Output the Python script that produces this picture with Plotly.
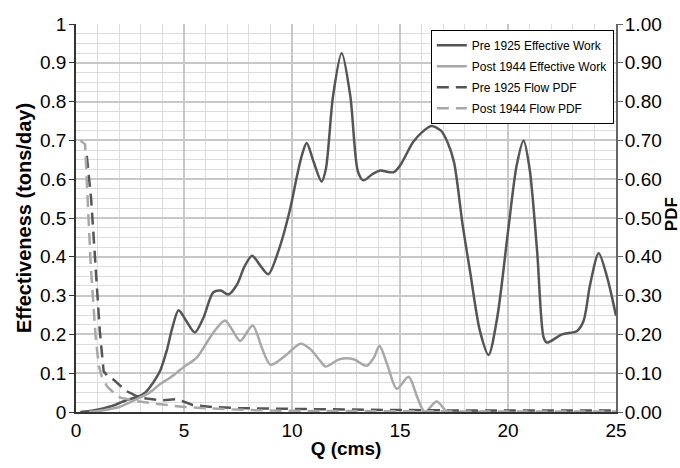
import plotly.graph_objects as go

# ---- data ----
pre_q = [0.2, 0.8, 1.3, 1.8, 2.35, 2.8, 3.2, 3.6, 3.9, 4.2, 4.45, 4.75, 5.1, 5.5, 5.9,
         6.35, 6.7, 7.05, 7.45, 7.8, 8.15, 8.5, 8.9, 9.4, 9.9, 10.2, 10.45, 10.68, 11.0,
         11.37, 11.57, 11.9, 12.3, 12.7, 13.05, 13.3, 13.7, 14.05, 14.7, 15.0, 15.6, 16.0,
         16.45, 16.9, 17.2, 17.5, 17.9, 18.25, 18.7, 19.1, 19.5, 20.0, 20.4, 20.72, 21.0,
         21.35, 21.65, 21.8, 22.5, 23.2, 23.5, 23.8, 24.2, 24.6, 25.0]
pre_work = [0.0, 0.004, 0.01, 0.018, 0.031, 0.038, 0.05, 0.078, 0.107, 0.158, 0.215, 0.262,
            0.235, 0.205, 0.243, 0.308, 0.313, 0.303, 0.328, 0.375, 0.403, 0.38, 0.355, 0.42,
            0.52, 0.6, 0.66, 0.693, 0.645, 0.594, 0.627, 0.814, 0.925, 0.814, 0.62, 0.597,
            0.612, 0.622, 0.618, 0.635, 0.695, 0.72, 0.737, 0.725, 0.695, 0.644, 0.482, 0.36,
            0.209, 0.147, 0.243, 0.465, 0.635, 0.70, 0.627, 0.413, 0.192, 0.179, 0.200, 0.209,
            0.235, 0.328, 0.409, 0.345, 0.248]

post_q = [0.6, 1.2, 2.0, 2.8, 3.4, 3.9, 4.4, 4.97, 5.6, 6.1, 6.5, 6.9, 7.25, 7.6, 8.18,
          8.6, 9.0, 9.6, 10.4, 10.85, 11.3, 11.55, 12.2, 12.85, 13.45, 13.8, 14.05, 14.4,
          14.85, 15.4, 15.8, 16.15, 16.7, 17.2, 18.0, 19.0, 19.5]
post_work = [0.0, 0.004, 0.013, 0.033, 0.05, 0.072, 0.09, 0.115, 0.141, 0.183, 0.215, 0.236,
             0.21, 0.183, 0.223, 0.166, 0.122, 0.141, 0.176, 0.162, 0.132, 0.117, 0.136,
             0.136, 0.119, 0.141, 0.171, 0.124, 0.06, 0.091, 0.038, 0.0, 0.027, 0.0, 0.0,
             0.0, 0.0]

pre_pdf_q = [0.5, 0.7, 0.9, 1.1, 1.28, 1.5, 1.75, 2.3, 2.95, 3.9, 4.7, 5.4, 6.3, 7.5,
             10, 12.5, 15, 17.5, 20, 22.5, 25]
pre_pdf = [0.66, 0.55, 0.38, 0.21, 0.105, 0.09, 0.083, 0.055, 0.037, 0.030, 0.033, 0.018,
           0.013, 0.01, 0.008, 0.006, 0.005, 0.004, 0.004, 0.004, 0.004]

post_pdf_q = [0.2, 0.42, 0.68, 0.9, 1.05, 1.2, 1.45, 1.8, 2.05, 2.8, 3.9, 5.0, 6.2, 8, 10,
              12.5, 15, 17.5, 20, 22.5, 25]
post_pdf = [0.70, 0.69, 0.38, 0.2, 0.12, 0.09, 0.065, 0.047, 0.037, 0.028, 0.02, 0.013,
            0.009, 0.005, 0.003, 0.002, 0.002, 0.001, 0.001, 0.001, 0.001]

x_title = "Q (cms)"
y_title = "Effectiveness (tons/day)"
y2_title = "PDF"

DARK = "#555555"
LIGHT = "#a8a8a8"
FONT = "Liberation Sans, Arial, sans-serif"

fig = go.Figure()
fig.add_trace(go.Scatter(x=pre_q, y=pre_work, mode="lines", name="Pre 1925 Effective Work",
                         legendgroup="g1",
                         line=dict(color=DARK, width=2.5, shape="spline", smoothing=0.8)))
fig.add_trace(go.Scatter(x=post_q, y=post_work, mode="lines", name="Post 1944 Effective Work",
                         legendgroup="g2",
                         line=dict(color=LIGHT, width=2.5, shape="spline", smoothing=0.8)))
fig.add_trace(go.Scatter(x=pre_pdf_q, y=pre_pdf, mode="lines", name="Pre 1925 Flow PDF",
                         yaxis="y2", legendgroup="g3",
                         line=dict(color=DARK, width=2.5, dash="12px,7px")))
fig.add_trace(go.Scatter(x=post_pdf_q, y=post_pdf, mode="lines", name="Post 1944 Flow PDF",
                         yaxis="y2", legendgroup="g4",
                         line=dict(color=LIGHT, width=2.5, dash="12px,7px")))

fig.update_layout(
    width=680, height=468,
    margin=dict(l=76, r=64, t=24, b=53),
    paper_bgcolor="white", plot_bgcolor="white",
    font=dict(family=FONT, size=19, color="black"),
    showlegend=True,
    legend=dict(x=0.996, y=0.985, xanchor="right", yanchor="top",
                bgcolor="white", bordercolor="black", borderwidth=1,
                font=dict(size=12, family=FONT), itemwidth=30, tracegroupgap=2),
    xaxis=dict(range=[0, 25], dtick=5, tick0=0, showgrid=True, gridcolor="#c8c8c8",
               gridwidth=2, zeroline=False, showline=True, linecolor="#333333",
               linewidth=1.5, ticks="", tickfont=dict(size=19),
               title=dict(text="<b>" + x_title + "</b>", font=dict(size=19), standoff=2),
               minor=dict(dtick=1, showgrid=True, gridcolor="#dcdcdc", gridwidth=1)),
    yaxis=dict(range=[0, 1], dtick=0.1, tick0=0, showgrid=True, gridcolor="#c8c8c8",
               gridwidth=2, zeroline=False, showline=True, linecolor="#333333",
               linewidth=1.5, ticks="outside", ticklen=5, tickcolor="#333333",
               tickfont=dict(size=19), ticklabelstandoff=-1,
               title=dict(text="<b>" + y_title + "</b>", font=dict(size=20), standoff=3),
               minor=dict(dtick=0.025, showgrid=True, gridcolor="#dcdcdc", gridwidth=1)),
    yaxis2=dict(range=[0, 1], dtick=0.1, tick0=0, overlaying="y", side="right",
                showgrid=False, zeroline=False, showline=True, linecolor="#666666",
                linewidth=2, ticks="outside", ticklen=5, tickcolor="#666666",
                tickformat=".2f", tickfont=dict(size=19), ticklabelstandoff=-2),
    annotations=[dict(text="<b>" + y2_title + "</b>", xref="paper", yref="paper",
                      x=1.102, y=0.51, xanchor="center", yanchor="middle",
                      textangle=-90, showarrow=False, borderpad=0,
                      font=dict(size=17, family=FONT))],
)

fig.write_html("out.html", config={"displayModeBar": False},
               post_script="document.body.style.margin='0px';")
